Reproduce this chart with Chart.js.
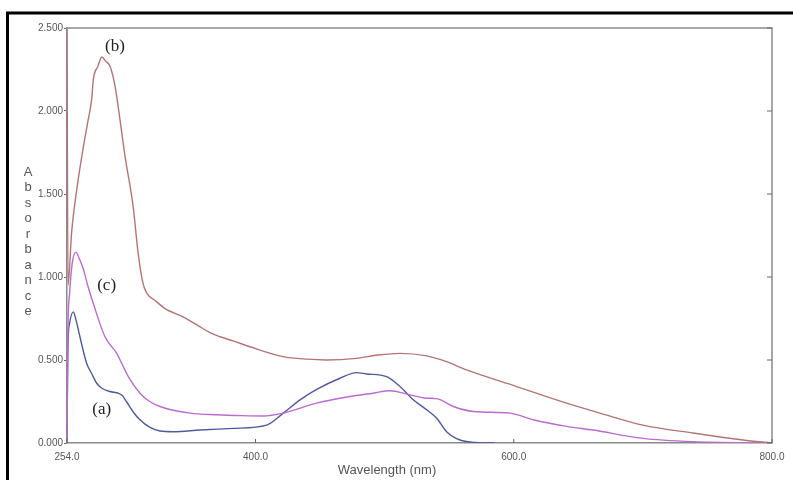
<!DOCTYPE html>
<html>
<head>
<meta charset="utf-8">
<script src="https://cdn.jsdelivr.net/npm/chart.js@4.4.1/dist/chart.umd.min.js"></script>
<style>
  html, body { margin: 0; padding: 0; background: #fff; }
  #wrap { position: relative; width: 793px; height: 480px; }
</style>
</head>
<body>
<div id="wrap"><canvas id="chart" width="793" height="480"></canvas></div>
<script>
// UV-Vis absorption spectra, wavelength (nm) vs absorbance
const wavelengthA = [254, 254.6, 256, 258.9, 261, 264, 269.2, 273, 277, 281, 287.3, 293.7, 297, 300, 305, 310.5, 318, 326, 336.3, 357, 382.8, 408.6, 421.5, 434.5, 447.4, 465.4, 478.2, 486, 501.5, 511.9, 522.2, 532.5, 540.3, 548, 558.4, 570, 585];
const absorbanceA = [0, 0.55, 0.72, 0.79, 0.74, 0.64, 0.48, 0.42, 0.36, 0.33, 0.31, 0.30, 0.285, 0.25, 0.19, 0.14, 0.095, 0.072, 0.068, 0.078, 0.088, 0.108, 0.18, 0.26, 0.323, 0.39, 0.424, 0.416, 0.40, 0.34, 0.26, 0.20, 0.149, 0.068, 0.018, 0.004, 0];

const wavelengthB = [254, 254.8, 257.6, 262, 266.6, 270, 273.1, 274.4, 278, 281, 284, 287.3, 291.2, 295, 298.9, 305.3, 309, 312.9, 316, 322, 330, 343.8, 355, 364.7, 372.6, 382.6, 395.7, 421.5, 440, 455, 478.2, 495, 511.9, 532.5, 548, 563.5, 602.2, 640.9, 666.8, 700, 738.8, 777.6, 800];
const absorbanceB = [2.5, 0.95, 1.27, 1.55, 1.78, 1.93, 2.07, 2.19, 2.27, 2.325, 2.30, 2.27, 2.15, 1.95, 1.73, 1.42, 1.15, 0.96, 0.90, 0.86, 0.81, 0.76, 0.71, 0.665, 0.64, 0.615, 0.58, 0.52, 0.505, 0.50, 0.51, 0.53, 0.54, 0.525, 0.49, 0.44, 0.34, 0.24, 0.18, 0.108, 0.06, 0.018, 0];

const wavelengthC = [254, 254.8, 256, 258, 261, 263, 266.6, 270, 274.4, 283.4, 292.5, 297, 301.5, 310.5, 318, 326, 349.3, 370, 390, 406, 421.3, 447.4, 473.2, 491, 504.2, 519.6, 532.6, 540.3, 553.2, 568.7, 597.1, 615.1, 641, 661.4, 700, 738.8, 800];
const absorbanceC = [0, 0.7, 0.9, 1.08, 1.15, 1.12, 1.05, 0.95, 0.84, 0.64, 0.54, 0.47, 0.40, 0.30, 0.25, 0.22, 0.18, 0.17, 0.165, 0.163, 0.18, 0.24, 0.28, 0.30, 0.315, 0.29, 0.27, 0.267, 0.22, 0.19, 0.18, 0.14, 0.10, 0.078, 0.028, 0.008, 0];

const xTickValues = [254, 400, 600, 800];
const yTickValues = [0, 0.5, 1.0, 1.5, 2.0, 2.5];

// curve tags placed in data space (wavelength, absorbance)
const curveTags = ['(a)', '(b)', '(c)'];
const curveTagX = [280.9, 291.2, 284.7];
const curveTagY = [0.199, 2.387, 0.948];

const toPoints = (xs, ys) => xs.map((x, i) => ({ x: x, y: ys[i] }));

const AXIS = '#8a8a8a';
const TEXT = '#555';

const framePlugin = {
  id: 'frame',
  beforeDraw(chart) {
    const ctx = chart.ctx;
    ctx.save();
    ctx.fillStyle = '#fff';
    ctx.fillRect(0, 0, chart.width, chart.height);
    // outer black border (top and left)
    ctx.strokeStyle = '#000';
    ctx.lineWidth = 3;
    ctx.beginPath();
    ctx.moveTo(6, 13); ctx.lineTo(chart.width, 13);
    ctx.moveTo(7.5, 12); ctx.lineTo(7.5, chart.height);
    ctx.stroke();
    ctx.restore();
  },
  afterDraw(chart) {
    const ctx = chart.ctx;
    const a = chart.chartArea;
    const xs = chart.scales.x, ys = chart.scales.y;
    ctx.save();
    // top and right frame lines
    ctx.strokeStyle = AXIS;
    ctx.lineWidth = 1.5;
    ctx.beginPath();
    ctx.moveTo(a.left, a.top); ctx.lineTo(a.right, a.top);
    ctx.lineTo(a.right, a.bottom);
    ctx.stroke();
    // inward ticks on right and bottom
    ctx.lineWidth = 1;
    ctx.strokeStyle = '#666';
    ctx.beginPath();
    yTickValues.forEach(v => {
      const y = ys.getPixelForValue(v);
      ctx.moveTo(a.right - 5, y); ctx.lineTo(a.right, y);
    });
    xTickValues.forEach(v => {
      const x = xs.getPixelForValue(v);
      ctx.moveTo(x, a.bottom); ctx.lineTo(x, a.bottom - 4);
    });
    ctx.stroke();

    // axis titles
    ctx.fillStyle = TEXT;
    ctx.font = '13px "Liberation Sans", Arial, sans-serif';
    ctx.textAlign = 'center';
    ctx.textBaseline = 'middle';
    ctx.fillText('Wavelength (nm)', 387, 470);
    const letters = 'Absorbance'.split('');
    letters.forEach((ch, i) => ctx.fillText(ch, 28, 172 + i * 15.5));

    // curve tags
    ctx.fillStyle = '#222';
    ctx.font = '17px "Liberation Serif", "Times New Roman", serif';
    curveTags.forEach((t, i) => {
      ctx.fillText(t, xs.getPixelForValue(curveTagX[i]), ys.getPixelForValue(curveTagY[i]));
    });
    ctx.restore();
  }
};

new Chart(document.getElementById('chart'), {
  type: 'line',
  data: {
    datasets: [
      { label: '(b)', data: toPoints(wavelengthB, absorbanceB), borderColor: '#b27577', borderWidth: 1.4 },
      { label: '(c)', data: toPoints(wavelengthC, absorbanceC), borderColor: '#b96ccc', borderWidth: 1.4 },
      { label: '(a)', data: toPoints(wavelengthA, absorbanceA), borderColor: '#4f5a9c', borderWidth: 1.4 }
    ]
  },
  options: {
    responsive: false,
    animation: false,
    devicePixelRatio: 1,
    layout: { padding: { left: 0, top: 28, right: 21, bottom: 0 } },
    elements: {
      point: { radius: 0 },
      line: { cubicInterpolationMode: 'monotone', fill: false }
    },
    plugins: {
      legend: { display: false },
      tooltip: { enabled: false }
    },
    scales: {
      x: {
        type: 'linear',
        min: 254,
        max: 800,
        afterBuildTicks: s => { s.ticks = xTickValues.map(v => ({ value: v })); },
        afterFit: s => { s.height = 37; },
        ticks: {
          callback: v => Number(v).toFixed(1),
          color: TEXT,
          font: { family: '"Liberation Sans", Arial, sans-serif', size: 10 },
          padding: 8,
          maxRotation: 0,
          autoSkip: false
        },
        grid: { display: true, drawOnChartArea: false, drawTicks: false, color: AXIS },
        border: { display: true, color: AXIS, width: 1.5 }
      },
      y: {
        type: 'linear',
        min: 0,
        max: 2.5,
        afterBuildTicks: s => { s.ticks = yTickValues.map(v => ({ value: v })); },
        afterFit: s => { s.width = 67; },
        ticks: {
          callback: v => Number(v).toFixed(3),
          color: TEXT,
          font: { family: '"Liberation Sans", Arial, sans-serif', size: 10 },
          padding: 1
        },
        grid: { display: true, drawOnChartArea: false, drawTicks: true, tickLength: 3, color: '#666' },
        border: { display: true, color: AXIS, width: 1.5 }
      }
    }
  },
  plugins: [framePlugin]
});
</script>
</body>
</html>
